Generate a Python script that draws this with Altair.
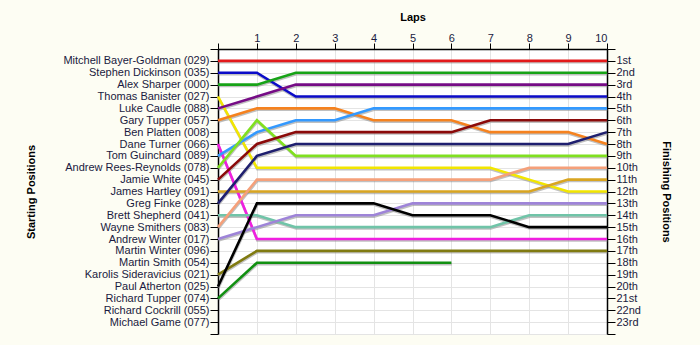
import json
import altair as alt
import pandas as pd

laps = [0, 1, 2, 3, 4, 5, 6, 7, 8, 9, 10]

start_names = [
    "Mitchell Bayer-Goldman (029)", "Stephen Dickinson (035)", "Alex Sharper (000)",
    "Thomas Banister (027)", "Luke Caudle (088)", "Gary Tupper (057)", "Ben Platten (008)",
    "Dane Turner (066)", "Tom Guinchard (089)", "Andrew Rees-Reynolds (078)",
    "Jamie White (045)", "James Hartley (091)", "Greg Finke (028)", "Brett Shepherd (041)",
    "Wayne Smithers (083)", "Andrew Winter (017)", "Martin Winter (096)", "Martin Smith (054)",
    "Karolis Sideravicius (021)", "Paul Atherton (025)", "Richard Tupper (074)",
    "Richard Cockrill (055)", "Michael Game (077)",
]

finish_labels = [
    "1st", "2nd", "3rd", "4th", "5th", "6th", "7th", "8th", "9th", "10th", "11th", "12th",
    "13th", "14th", "15th", "16th", "17th", "18th", "19th", "20th", "21st", "22nd", "23rd",
]

# positions per lap (lap 0 = start)
mitchell = [1, 1, 1, 1, 1, 1, 1, 1, 1, 1, 1]
stephen = [2, 2, 4, 4, 4, 4, 4, 4, 4, 4, 4]
alex = [3, 3, 2, 2, 2, 2, 2, 2, 2, 2, 2]
thomas = [4, 10, 10, 10, 10, 10, 10, 10, 11, 12, 12]
luke = [5, 4, 3, 3, 3, 3, 3, 3, 3, 3, 3]
gary = [6, 5, 5, 5, 6, 6, 6, 7, 7, 7, 8]
dane = [8, 16, 16, 16, 16, 16, 16, 16, 16, 16, 16]
tom = [9, 7, 6, 6, 5, 5, 5, 5, 5, 5, 5]
andrew_rr = [10, 6, 9, 9, 9, 9, 9, 9, 9, 9, 9]
jamie = [11, 8, 7, 7, 7, 7, 7, 6, 6, 6, 6]
james = [12, 12, 12, 12, 12, 12, 12, 12, 12, 11, 11]
greg = [13, 9, 8, 8, 8, 8, 8, 8, 8, 8, 7]
brett = [14, 14, 15, 15, 15, 15, 15, 15, 14, 14, 14]
wayne = [15, 11, 11, 11, 11, 11, 11, 11, 10, 10, 10]
andrew_w = [16, 15, 14, 14, 14, 13, 13, 13, 13, 13, 13]
karolis = [19, 17, 17, 17, 17, 17, 17, 17, 17, 17, 17]
paul = [20, 13, 13, 13, 13, 14, 14, 14, 15, 15, 15]
richard_t = [21, 18, 18, 18, 18, 18, 18, None, None, None, None]

series = [
    ("Mitchell Bayer-Goldman (029)", mitchell, "#E3191B"),
    ("Stephen Dickinson (035)", stephen, "#0B0BC8"),
    ("Alex Sharper (000)", alex, "#17A317"),
    ("Thomas Banister (027)", thomas, "#F2E600"),
    ("Luke Caudle (088)", luke, "#760C86"),
    ("Gary Tupper (057)", gary, "#F5821F"),
    ("Dane Turner (066)", dane, "#F01FE0"),
    ("Tom Guinchard (089)", tom, "#3399FF"),
    ("Andrew Rees-Reynolds (078)", andrew_rr, "#80E020"),
    ("Jamie White (045)", jamie, "#8B0A0A"),
    ("James Hartley (091)", james, "#D9A521"),
    ("Greg Finke (028)", greg, "#1F1F6F"),
    ("Brett Shepherd (041)", brett, "#70C4A8"),
    ("Wayne Smithers (083)", wayne, "#F5A07A"),
    ("Andrew Winter (017)", andrew_w, "#9E84D8"),
    ("Karolis Sideravicius (021)", karolis, "#807A10"),
    ("Paul Atherton (025)", paul, "#000000"),
    ("Richard Tupper (074)", richard_t, "#119011"),
]

rows = []
for name, vals, _ in series:
    for lap, pos in zip(laps, vals):
        if pos is not None:
            rows.append({"driver": name, "lap": lap, "pos": pos})
df = pd.DataFrame(rows)

left_expr = json.dumps([""] + start_names + [""]) + "[datum.value]"
right_expr = json.dumps([""] + finish_labels + [""]) + "[datum.value]"

FONT = "Liberation Sans"
LABEL_COLOR = "#1A1A40"

x_axis = alt.Axis(
    orient="top", values=laps, title="Laps",
    labelExpr="datum.value == 0 ? '' : datum.label",
    grid=True, gridColor="#E4E4E4", tickSize=6, labelPadding=0, titlePadding=10,
    labelFontSize=11,
)
x_scale = alt.Scale(domain=[0, 10], nice=False, zero=False)
y_scale = alt.Scale(domain=[0, 24], reverse=True, nice=False, zero=False)

base = alt.Chart(df)

shadow = base.mark_line(
    strokeWidth=2.6, color="#8C8C8C", opacity=0.55, yOffset=1.4, xOffset=0.4
).encode(
    x=alt.X("lap:Q", scale=x_scale, axis=x_axis),
    y=alt.Y("pos:Q", scale=y_scale, axis=alt.Axis(
        orient="right", values=list(range(0, 25)), labelExpr=right_expr,
        title="Finishing Positions", grid=False, tickSize=8, labelPadding=1,
        titlePadding=20, labelAlign="left",
    )),
    detail="driver:N",
    order="lap:Q",
)

lines = base.mark_line(strokeWidth=2.6).encode(
    x=alt.X("lap:Q", scale=x_scale, axis=x_axis),
    y=alt.Y("pos:Q", scale=y_scale, axis=alt.Axis(
        orient="left", values=list(range(0, 25)), labelExpr=left_expr,
        title="Starting Positions", grid=True, gridColor="#E4E4E4", tickSize=8,
        labelPadding=1, titlePadding=26,
    )),
    color=alt.Color("driver:N", scale=alt.Scale(
        domain=[s[0] for s in series], range=[s[2] for s in series]), legend=None),
    order="lap:Q",
)

chart = alt.layer(shadow, lines).resolve_scale(y="independent").properties(
    width=389, height=285,
    autosize=alt.AutoSizeParams(type="none"),
    padding={"left": 218, "top": 49, "right": 93, "bottom": 11},
    background="#FDFDF3",
).configure_view(
    fill="white", stroke=None,
).configure_axis(
    domainColor="black", domainWidth=1.5, tickColor="black", tickWidth=1,
    labelFont=FONT, labelFontSize=11, labelColor=LABEL_COLOR,
    titleFont=FONT, titleFontSize=11, titleFontWeight="bold", titleColor="black",
)

chart.save("out.html", embed_options={"renderer": "svg", "actions": False})
